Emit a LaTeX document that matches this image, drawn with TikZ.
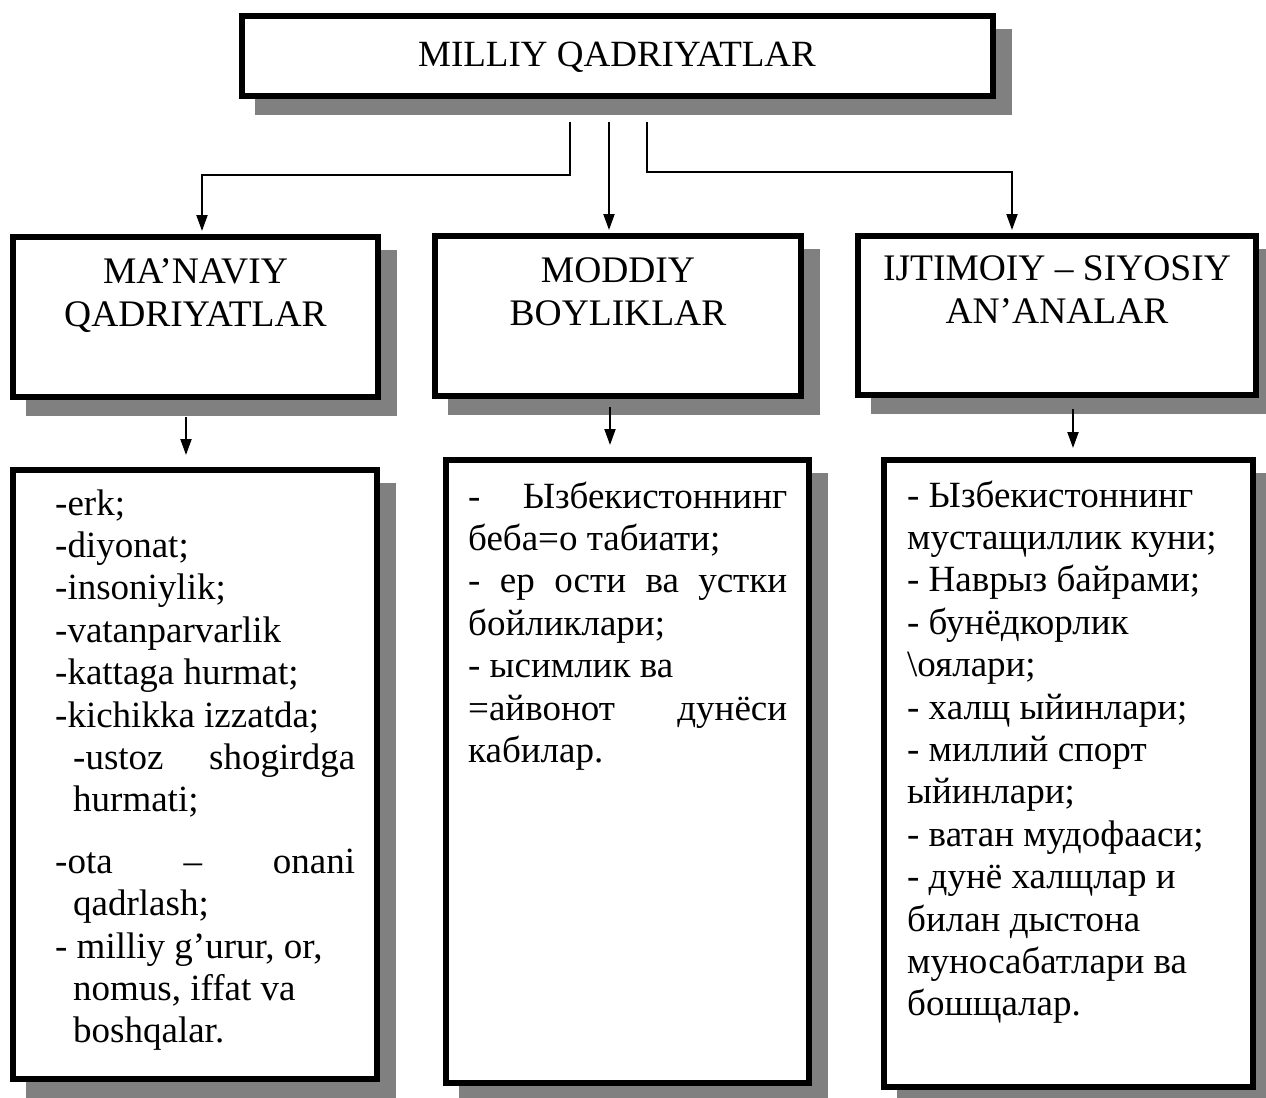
\documentclass[tikz,border=0pt]{standalone}
\usepackage{fontspec}
\setmainfont{Liberation Serif}
\newfontfamily\bodyfont{Liberation Serif}
\usetikzlibrary{shadows,arrows.meta}
\definecolor{shgray}{HTML}{808080}
\begin{document}
\begin{tikzpicture}[x=1bp,y=-1bp,
  boxstyle/.style={rectangle, draw=black, line width=6bp, fill=white, inner sep=0pt,
    drop shadow={shadow xshift=16bp, shadow yshift=-16bp, fill=shgray, draw=shgray, line width=6bp, opacity=1}},
  headtxt/.style={inner sep=0pt, anchor=base, align=center, font={\bodyfont\fontsize{37.5bp}{43bp}\selectfont}},
  bodytxt/.style={inner sep=0pt, anchor=base west, font={\bodyfont\fontsize{37bp}{42.4bp}\selectfont}},
  conn/.style={draw=black, line width=2bp, -{Triangle[length=16bp,width=11bp]}}
]
\useasboundingbox (0,0) rectangle (1266,1098);

% boxes
\node[boxstyle, minimum width=751bp, minimum height=80bp] (top) at (617.5,56) {};
\node[boxstyle, minimum width=365bp, minimum height=160bp] (mL) at (195.5,317) {};
\node[boxstyle, minimum width=366bp, minimum height=160bp] (mM) at (618,316) {};
\node[boxstyle, minimum width=398bp, minimum height=159bp] (mR) at (1057,315.5) {};
\node[boxstyle, minimum width=364bp, minimum height=609bp] (bL) at (195,774.5) {};
\node[boxstyle, minimum width=363bp, minimum height=623bp] (bM) at (627.5,771.5) {};
\node[boxstyle, minimum width=369bp, minimum height=627bp] (bR) at (1068.5,773.5) {};

% titles
\node[inner sep=0pt, anchor=base, font={\bodyfont\fontsize{37bp}{42bp}\selectfont}] (ttop) at (617,66) {MILLIY QADRIYATLAR};
\node[headtxt] (hL) at (195.5,283) {\parbox[t]{360bp}{\centering MA’NAVIY\\QADRIYATLAR}};
\node[headtxt] (hM) at (618,282) {\parbox[t]{360bp}{\centering MODDIY\\BOYLIKLAR}};
\node[headtxt] (hR) at (1057,280) {\parbox[t]{395bp}{\centering IJTIMOIY – SIYOSIY\\AN’ANALAR}};

% body texts
\node[bodytxt] (tL) at (55,515) {\begin{minipage}[t]{300bp}\raggedright
-erk;\\
-diyonat;\\
-insoniylik;\\
-vatanparvarlik\\
-kattaga hurmat;\\
-kichikka izzatda;\\
\hspace*{18bp}\hbox to 282bp{-ustoz\hfill shogirdga}\\
\hspace*{18bp}hurmati;\\[19bp]
\leavevmode\hbox to 300bp{-ota\hfill –\hfill onani}\\
\hspace*{18bp}qadrlash;\\
- milliy g’urur, or,\\
\hspace*{18bp}nomus, iffat va\\
\hspace*{18bp}boshqalar.
\end{minipage}};

\node[bodytxt] (tM) at (468,508) {\begin{minipage}[t]{319bp}\raggedright
\leavevmode\hbox to 319bp{-\hfill Ызбекистоннинг}\\
беба=о табиати;\\
\leavevmode\hbox to 319bp{-\hfill ер\hfill ости\hfill ва\hfill устки}\\
бойликлари;\\
- ысимлик ва\\
\leavevmode\hbox to 319bp{=айвонот\hfill дунёси}\\
кабилар.
\end{minipage}};

\node[bodytxt] (tR) at (907,507) {\begin{minipage}[t]{345bp}\raggedright
- Ызбекистоннинг\\
мустащиллик куни;\\
- Наврыз байрами;\\
- бунёдкорлик\\
\textbackslash{}оялари;\\
- халщ ыйинлари;\\
- миллий спорт\\
ыйинлари;\\
- ватан мудофааси;\\
- дунё халщлар и\\
билан дыстона\\
муносабатлари ва\\
бошщалар.
\end{minipage}};

% connectors from top
\coordinate (sL) at (570,122);
\coordinate (kL) at (202,175);
\coordinate (sM) at (609,122);
\coordinate (sR) at (647,122);
\coordinate (kR) at (1012,172);
\draw[conn, shorten >=3bp] (sL) |- (kL) -- (kL |- mL.north);
\draw[conn, shorten >=3bp] (sM) -- (sM |- mM.north);
\draw[conn, shorten >=3bp] (sR) |- (kR) -- (kR |- mR.north);

% connectors to lists
\coordinate (dL) at (186,417);
\coordinate (dM) at (610,407);
\coordinate (dR) at (1073,409);
\draw[conn, shorten >=12bp] (dL) -- (dL |- bL.north);
\draw[conn, shorten >=12bp] (dM) -- (dM |- bM.north);
\draw[conn, shorten >=9bp] (dR) -- (dR |- bR.north);
\end{tikzpicture}
\end{document}
